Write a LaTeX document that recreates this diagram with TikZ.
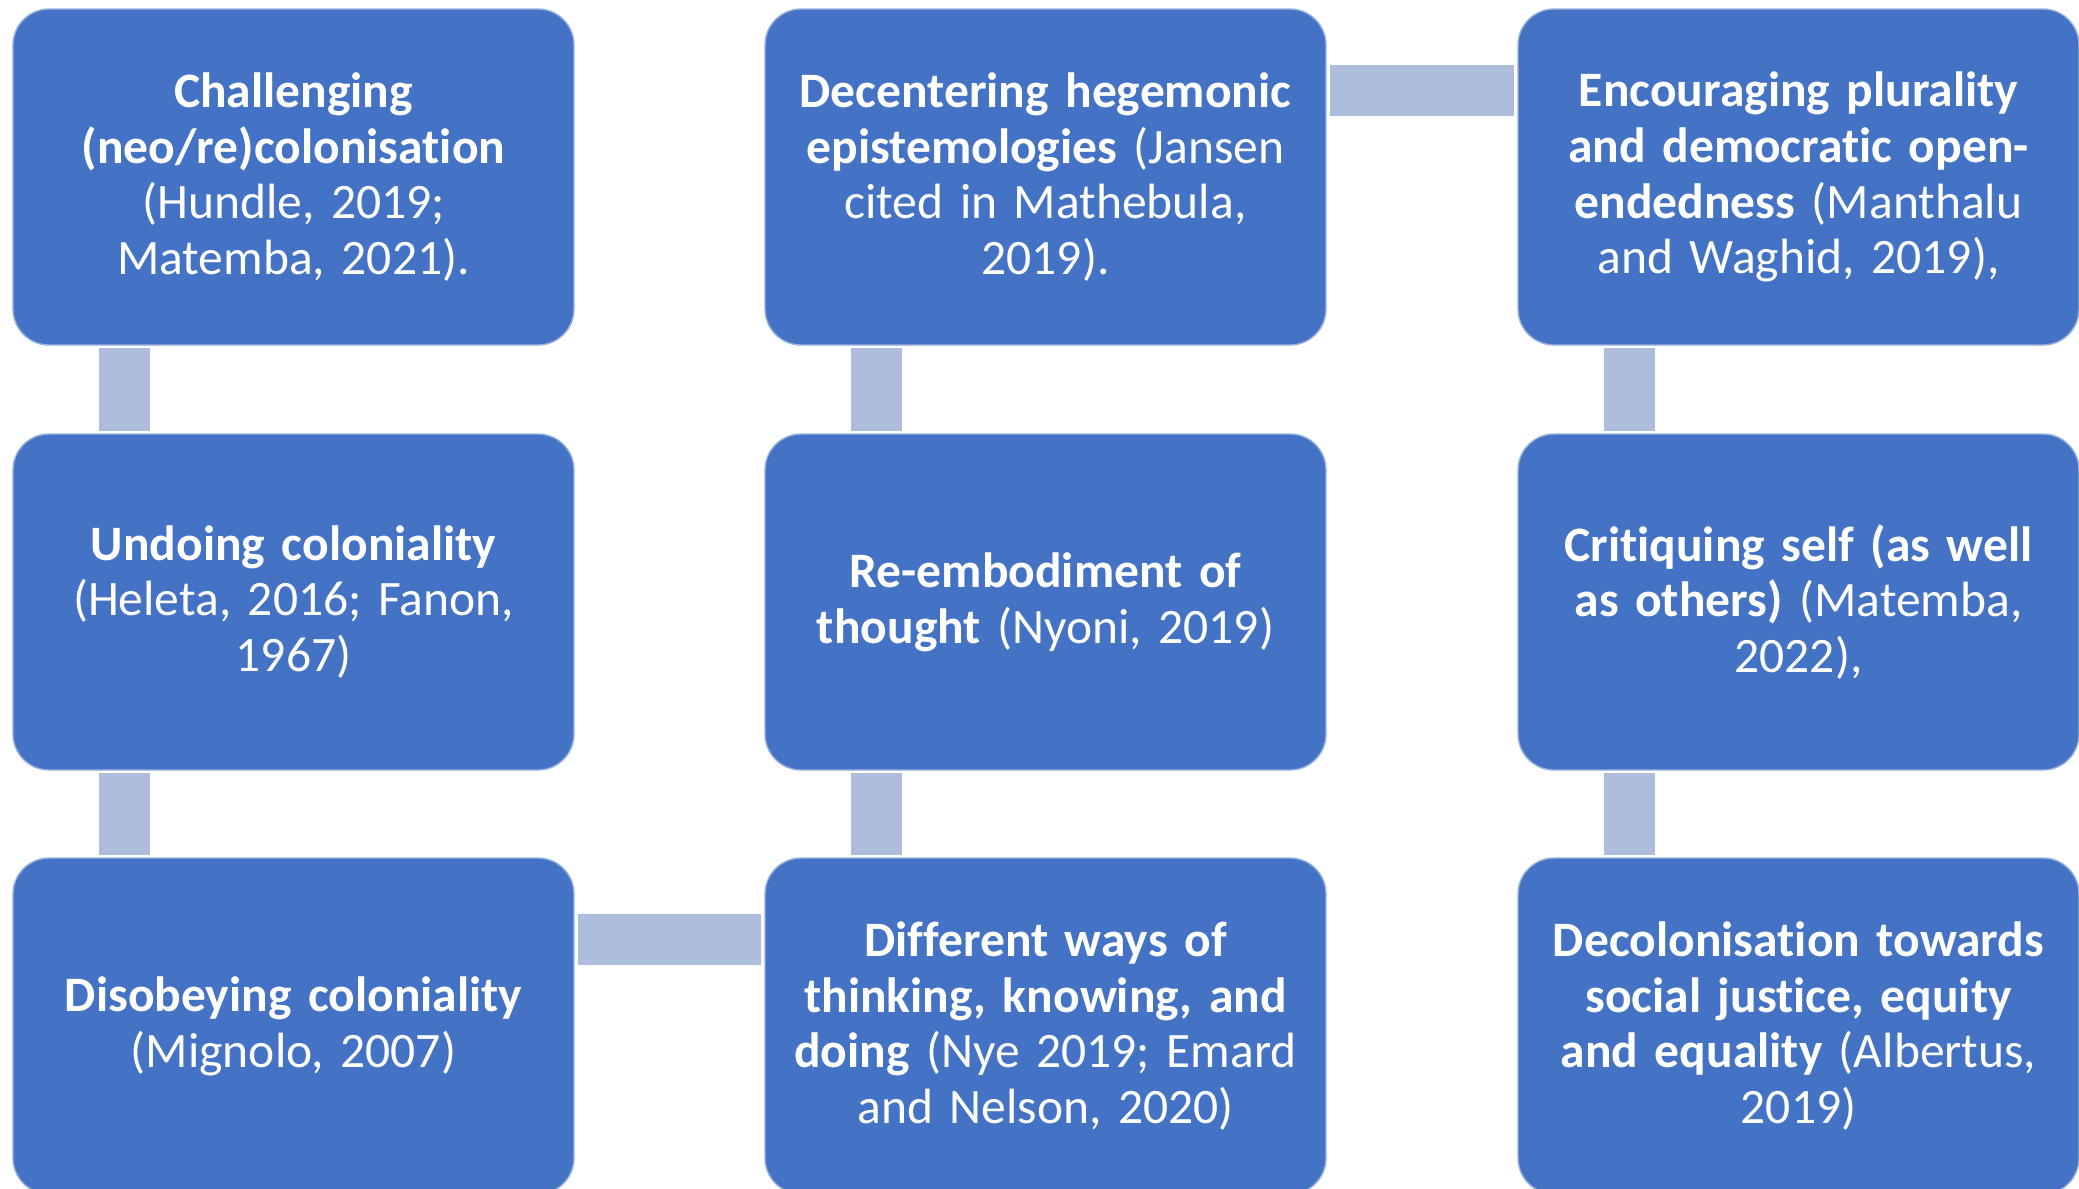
\documentclass[tikz,border=0pt]{standalone}
\usepackage{fontspec}
\setmainfont[Ligatures=NoCommon]{Carlito}
\definecolor{boxblue}{RGB}{68,114,196}
\definecolor{barblue}{RGB}{175,189,221}
\tikzset{
	stepbox/.style={
			rectangle, rounded corners=0.36cm, fill=boxblue, draw=boxblue!55!white, line width=0.4pt,
			minimum width=5.61cm, minimum height=3.36cm, inner sep=0pt, outer sep=0pt,
			text=white, text width=5.5cm, align=center,
			font=\fontsize{14.1pt}{15.9pt}\selectfont
		},
	linkbar/.style={draw=barblue, line width=0.51cm}
}

\begin{document}
\begin{tikzpicture}
			\useasboundingbox (0, 0) rectangle (20.79, -11.88);

			% left column
			\node[stepbox] (chal) at (2.935, -1.77) {\textbf{Challenging}\\\textbf{(neo/re)colonisation}\\(Hundle, 2019;\\Matemba, 2021).};
			\node[stepbox] (undo) at (2.935, -6.02) {\textbf{Undoing coloniality}\\(Heleta, 2016; Fanon,\\1967)};
			\node[stepbox] (diso) at (2.935, -10.26) {\textbf{Disobeying coloniality}\\(Mignolo, 2007)};

			% middle column
			\node[stepbox] (dece) at (10.455, -1.77) {\textbf{Decentering hegemonic}\\\textbf{epistemologies} (Jansen\\cited in Mathebula,\\2019).};
			\node[stepbox] (reem) at (10.455, -6.02) {\textbf{Re-embodiment of}\\\textbf{thought} (Nyoni, 2019)};
			\node[stepbox] (diff) at (10.455, -10.26) {\textbf{Different ways of}\\\textbf{thinking, knowing, and}\\\textbf{doing} (Nye 2019; Emard\\and Nelson, 2020)};

			% right column
			\node[stepbox] (plur) at (17.985, -1.77) {\textbf{Encouraging plurality}\\\textbf{and democratic open-}\\\textbf{endedness} (Manthalu\\and Waghid, 2019),};
			\node[stepbox] (crit) at (17.985, -6.02) {\textbf{Critiquing self (as well}\\\textbf{as others)} (Matemba,\\2022),};
			\node[stepbox] (deco) at (17.985, -10.26) {\textbf{Decolonisation towards}\\\textbf{social justice, equity}\\\textbf{and equality} (Albertus,\\2019)};

			% connectors
			\draw[linkbar]	([shift={(1.115, -0.03)}]chal.south west) to ([shift={(1.115, 0.03)}]undo.north west);
			\draw[linkbar]	([shift={(1.115, -0.03)}]undo.south west) to ([shift={(1.115, 0.03)}]diso.north west);
			\draw[linkbar]	([shift={(0.04, -0.81)}]diso.north east) to ([shift={(-0.04, -0.81)}]diff.north west);
			\draw[linkbar]	([shift={(1.115, 0.03)}]diff.north west) to ([shift={(1.115, -0.03)}]reem.south west);
			\draw[linkbar]	([shift={(1.115, 0.03)}]reem.north west) to ([shift={(1.115, -0.03)}]dece.south west);
			\draw[linkbar]	([shift={(0.04, -0.81)}]dece.north east) to ([shift={(-0.04, -0.81)}]plur.north west);
			\draw[linkbar]	([shift={(1.115, -0.03)}]plur.south west) to ([shift={(1.115, 0.03)}]crit.north west);
			\draw[linkbar]	([shift={(1.115, -0.03)}]crit.south west) to ([shift={(1.115, 0.03)}]deco.north west);
		\end{tikzpicture}
\end{document}
